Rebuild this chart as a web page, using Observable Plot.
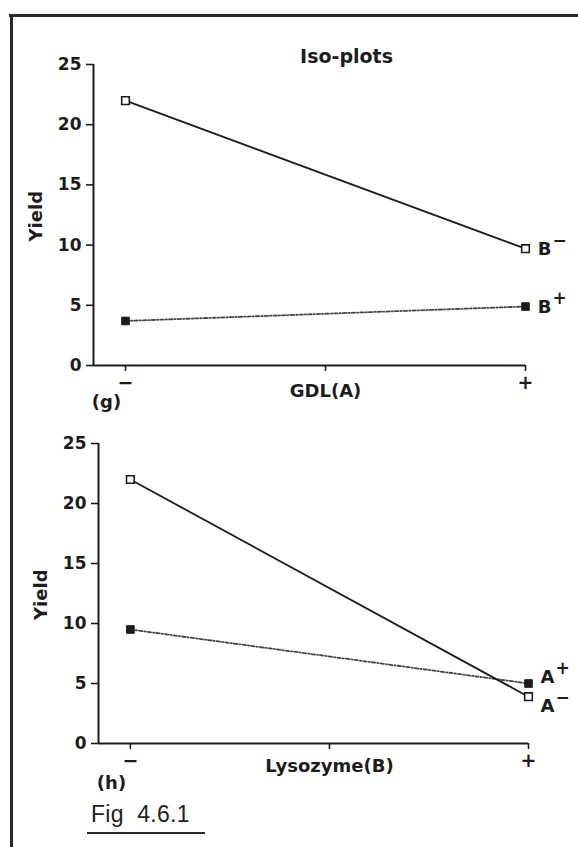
<!DOCTYPE html>
<html>
<head>
<meta charset="utf-8">
<script src="https://cdn.jsdelivr.net/npm/d3@7"></script>
<script src="https://cdn.jsdelivr.net/npm/@observablehq/plot@0.6"></script>
<style>
  html, body { margin: 0; padding: 0; background: #fff; }
  #page { position: relative; width: 578px; height: 847px; overflow: hidden; background: #fff; font-family: "DejaVu Sans", sans-serif; }
  .abs { position: absolute; }
  #frameTop { left: 9px; top: 14px; width: 569px; height: 2.5px; background: #2a2a2a; }
  #frameLeft { left: 10px; top: 14px; width: 2.5px; height: 833px; background: #2a2a2a; }
  #fig { left: 91px; top: 803px; font-family: "Liberation Sans", Arial, sans-serif; font-size: 23px; color: #222; white-space: pre; line-height: 1; letter-spacing: 0.3px; }
  #figLine { left: 87px; top: 832px; width: 118px; height: 2px; background: #2a2a2a; }
</style>
</head>
<body>
<div id="page">
  <div id="frameTop" class="abs"></div>
  <div id="frameLeft" class="abs"></div>
  <div id="top" class="abs" style="left:0;top:0"></div>
  <div id="bottom" class="abs" style="left:0;top:420px"></div>
  <div id="fig" class="abs">Fig  4.6.1</div>
  <div id="figLine" class="abs"></div>
</div>
<script>
// ---- data ----
const levels = [0, 1];                 // factor levels: low, high
const levelLabels = ["−", "+"];
const xTicks = [0, 0.5, 1];
const yTicks = [0, 5, 10, 15, 20, 25];

// panel (g): Yield vs GDL(A), lines for each level of B
const gBminus = [22, 9.7];
const gBplus = [3.7, 4.9];

// panel (h): Yield vs Lysozyme(B), lines for each level of A
const hAminus = [22, 3.9];
const hAplus = [9.5, 5.0];

const ink = "#1c1c1c";
const xMin = -0.08;

function panel({seriesSolid, seriesDotted, labelSolid, labelDotted, supSolid, supDotted,
                solidLabelDy, dottedLabelDy, xLabel, panelTag, title,
                height, marginTop, marginBottom, marginLeft, marginRight, tagDy, xLabelDy}) {
  const solid = levels.map((x, i) => ({x, y: seriesSolid[i]}));
  const dotted = levels.map((x, i) => ({x, y: seriesDotted[i]}));
  const ticks = levels.map((x, i) => ({x, label: levelLabels[i]}));
  const lastSolid = [solid[solid.length - 1]];
  const lastDotted = [dotted[dotted.length - 1]];
  const bold = {fontWeight: "bold", fill: ink};
  const marks = [
    // axes lines
    Plot.ruleX([xMin], {y1: 0, y2: 25, stroke: ink, strokeWidth: 2}),
    Plot.ruleY([0], {x1: xMin, x2: 1, stroke: ink, strokeWidth: 2}),
    Plot.axisY({ticks: yTicks, tickSize: 7, tickPadding: 5, fontSize: 17, fontWeight: "bold",
                fill: ink, stroke: ink, strokeWidth: 1.6, label: null}),
    Plot.axisX({ticks: xTicks, tickSize: 6, tickFormat: () => "", stroke: ink, strokeWidth: 1.6, label: null}),
    // x tick labels
    Plot.text(ticks, {x: "x", y: 0, text: "label", dy: 17, fontSize: 19, ...bold}),
    // axis titles
    Plot.text([xLabel], {x: 0.5, y: 0, text: d => d, dy: xLabelDy, fontSize: 18, ...bold}),
    Plot.text([panelTag], {x: xMin, y: 0, text: d => d, dx: 13, dy: tagDy, fontSize: 18, ...bold}),
    Plot.text(["Yield"], {x: xMin, y: 12.4, text: d => d, dx: -57, rotate: -90, fontSize: 18, ...bold}),
    // series
    Plot.line(dotted, {x: "x", y: "y", stroke: "#444", strokeWidth: 1.8, strokeDasharray: "3.5,2,1.2,2"}),
    Plot.line(solid, {x: "x", y: "y", stroke: ink, strokeWidth: 1.8}),
    Plot.dot(dotted, {x: "x", y: "y", symbol: "square", r: 4.3, fill: ink, stroke: ink, strokeWidth: 1}),
    Plot.dot(solid, {x: "x", y: "y", symbol: "square", r: 4.3, fill: "white", stroke: ink, strokeWidth: 1.6}),
    // series labels
    Plot.text(lastSolid, {x: "x", y: "y", text: () => labelSolid, dx: 19, dy: solidLabelDy, fontSize: 18, ...bold}),
    Plot.text(lastSolid, {x: "x", y: "y", text: () => supSolid, dx: 34, dy: solidLabelDy - 9, fontSize: 17, ...bold}),
    Plot.text(lastDotted, {x: "x", y: "y", text: () => labelDotted, dx: 19, dy: dottedLabelDy, fontSize: 18, ...bold}),
    Plot.text(lastDotted, {x: "x", y: "y", text: () => supDotted, dx: 34, dy: dottedLabelDy - 9, fontSize: 17, ...bold})
  ];
  if (title) {
    marks.push(Plot.text([title], {frameAnchor: "top", text: d => d, dx: 37, dy: -15, fontSize: 19, ...bold}));
  }
  return Plot.plot({
    width: 578, height, marginTop, marginBottom, marginLeft, marginRight,
    style: {fontFamily: "DejaVu Sans, sans-serif", overflow: "visible", background: "transparent"},
    x: {domain: [xMin, 1], axis: null},
    y: {domain: [0, 25], axis: null},
    marks
  });
}

document.getElementById("top").appendChild(panel({
  seriesSolid: gBminus, seriesDotted: gBplus,
  labelSolid: "B", labelDotted: "B", supSolid: "−", supDotted: "+",
  solidLabelDy: 1, dottedLabelDy: 1,
  xLabel: "GDL(A)", panelTag: "(g)", title: "Iso-plots",
  height: 420, marginTop: 64, marginBottom: 55, marginLeft: 93, marginRight: 53,
  tagDy: 37, xLabelDy: 26
}));

document.getElementById("bottom").appendChild(panel({
  seriesSolid: hAminus, seriesDotted: hAplus,
  labelSolid: "A", labelDotted: "A", supSolid: "−", supDotted: "+",
  solidLabelDy: 10, dottedLabelDy: -6,
  xLabel: "Lysozyme(B)", panelTag: "(h)", title: null,
  height: 380, marginTop: 23, marginBottom: 57, marginLeft: 98, marginRight: 50,
  tagDy: 40, xLabelDy: 23
}));
</script>
</body>
</html>
